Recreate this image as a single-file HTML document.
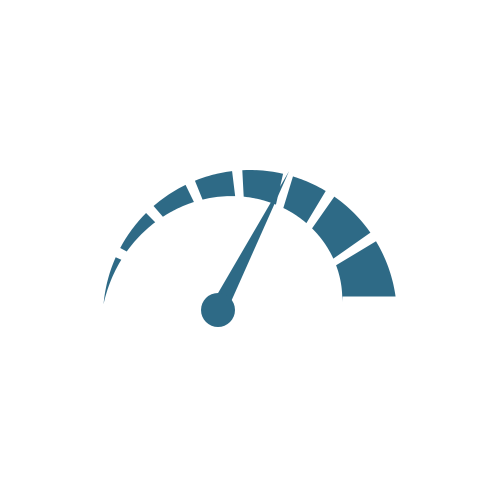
<!DOCTYPE html>
<html><head><meta charset="utf-8"><style>html,body{margin:0;padding:0;background:#fff}svg{display:block}</style></head>
<body>
<svg id="g" width="499" height="499" viewBox="0 0 499 499"></svg>
<script>
const segStart = [175, 152, 131, 112, 93, 73, 55, 31];
const segEnd   = [156, 135, 116, 97, 77, 59, 35, 8];
const needleValue = 75;
const cx = 250, cy = 317, R = 147, col = '#2e6a86';
const svg = document.getElementById('g');
const NS = 'http://www.w3.org/2000/svg';
function thick(a){ return Math.max(0, 54 * (175 - a) / 167); }
function pt(a, r){ const t = a * Math.PI / 180; return [cx + r * Math.cos(t), cy - r * Math.sin(t)]; }
segStart.forEach((s, i) => {
  const e = segEnd[i], pts = [];
  for (let k = 0; k <= 20; k++) { const a = s + (e - s) * k / 20; pts.push(pt(a, R)); }
  const last = i === segStart.length - 1;
  for (let k = 20; k >= 0; k--) {
    const a = s + (e - s) * k / 20;
    const q = pt(a, R - Math.max(i === 0 ? 0 : 6, thick(a)));
    if (last && k === 20) { const o = pt(e, R); q[1] = o[1]; q[0] = o[0] - 53; }
    pts.push(q);
  }
  const p = document.createElementNS(NS, 'polygon');
  p.setAttribute('points', pts.map(q => q.join(',')).join(' '));
  p.setAttribute('fill', col);
  
  
  svg.appendChild(p);
});
const hx = 218, hy = 310;
const tip = pt(needleValue, R + 4);
const dx = tip[0] - hx, dy = tip[1] - hy, L = Math.hypot(dx, dy);
const nx = -dy / L, ny = dx / L, w = 8.5;
const needle = document.createElementNS(NS, 'polygon');
needle.setAttribute('points', `${hx + nx * w},${hy + ny * w} ${tip[0]},${tip[1]} ${hx - nx * w},${hy - ny * w}`);
needle.setAttribute('fill', col);


svg.appendChild(needle);
const hub = document.createElementNS(NS, 'circle');
hub.setAttribute('cx', hx); hub.setAttribute('cy', hy); hub.setAttribute('r', 17);
hub.setAttribute('fill', col);


svg.appendChild(hub);
</script>
</body></html>
